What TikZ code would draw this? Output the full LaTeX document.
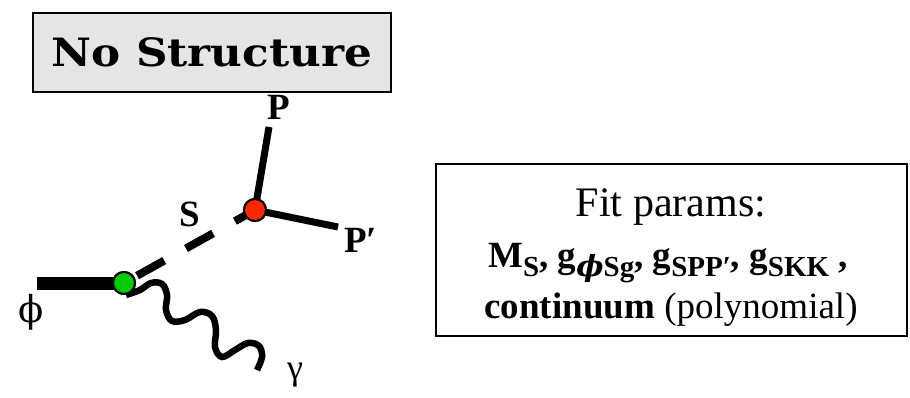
\documentclass[tikz,border=0pt]{standalone}
\usepackage{fontspec}
\setmainfont{Liberation Serif}
\newfontfamily\titlefont[FakeStretch=1.12]{DejaVu Serif}
\newfontfamily\dvs{DejaVu Serif}
\newcommand\mysub[1]{\raisebox{-9.5pt}{\fontsize{29}{29}\selectfont #1}}
\definecolor{vgreen}{RGB}{0,204,0}
\definecolor{vred}{RGB}{255,40,0}
\definecolor{boxgray}{RGB}{229,229,229}
\begin{document}
\begin{tikzpicture}[x=1pt,y=-1pt,
  titlebox/.style={draw, line width=2pt, fill=boxgray, minimum width=358pt, minimum height=79pt, inner sep=0pt,
    font=\titlefont\bfseries\fontsize{39}{39}\selectfont},
  infobox/.style={draw, line width=2pt, minimum width=471pt, minimum height=172pt, inner sep=0pt},
  vtx/.style={circle, draw, line width=2pt, minimum size=22pt, inner sep=0pt},
  lbl/.style={anchor=base, inner sep=0pt, font=\bfseries\fontsize{37}{37}\selectfont},
  meson/.style={line width=7pt},
  scalar/.style={line width=8pt, dash pattern=on 31pt off 25pt, dash phase=41pt},
  photon/.style={line width=6.5pt}
]
\useasboundingbox (0,0) rectangle (910,398);

\node[titlebox] (title) at (212,52.5) {No Structure};

\coordinate (phiend) at (37,283);
\coordinate (pend) at (269,127);
\coordinate (ppend) at (338,227);
\coordinate (gend) at (257,370);
\coordinate (gstart) at (126,295);

\node[vtx, fill=vgreen] (g) at (124,283) {};
\node[vtx, fill=vred] (r) at (255,210) {};

\draw[line width=13pt] (phiend) -- (g.center);
\draw[meson] (r.center) -- (pend);
\draw[meson] (r.center) -- (ppend);
\draw[scalar] (g.center) -- (r.center);
\draw[photon] plot[smooth, tension=0.6] coordinates {(gstart) (140,290) (151,283) (162,284) (167,295) (166,310) (172,321) (185,320) (200,312) (212,316) (216,330) (215,347) (222,357) (235,350) (248,343) (259,346) (262,357) (gend)};

\node[vtx, fill=vgreen] at (g) {};
\node[vtx, fill=vred] at (r) {};

\node[lbl] (plabel) at (279,120) {P};
\node[lbl, anchor=base west] (pplabel) at (344,252) {P′};
\node[lbl] (slabel) at (190,226) {S};
\node[anchor=base, inner sep=0pt, font=\dvs\fontsize{37}{37}\selectfont] (philabel) at (31,322) {ϕ};
\node[anchor=base, inner sep=0pt, font=\fontsize{36}{36}\selectfont] (gammalabel) at (295,379) {γ};

\node[infobox] (fitbox) at (671.5,250) {};
\node[anchor=base, inner sep=0pt, font=\fontsize{42}{42}\selectfont] (fit) at (671,217) {Fit params:};
\node[anchor=base, inner sep=0pt, font=\bfseries\fontsize{37}{37}\selectfont] (pars) at (668,267)
  {M\mysub{S}, g\mysub{{\dvs\itshape ϕ}Sg}, g\mysub{SPP′}, g\mysub{SKK} ,};
\node[anchor=base, inner sep=0pt, font=\fontsize{37}{37}\selectfont] (cont) at (671,318)
  {\textbf{continuum} (polynomial)};
\end{tikzpicture}
\end{document}
